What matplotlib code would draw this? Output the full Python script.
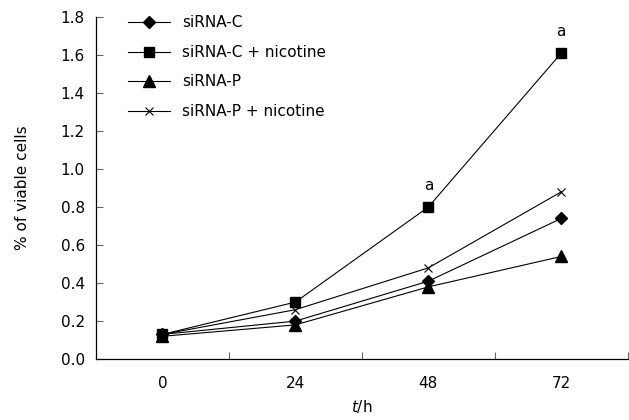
import matplotlib
matplotlib.use("Agg")
import matplotlib.pyplot as plt
import numpy as np

hours = ["0", "24", "48", "72"]
sirna_c = [0.13, 0.20, 0.41, 0.74]
sirna_c_nic = [0.13, 0.30, 0.80, 1.61]
sirna_p = [0.12, 0.18, 0.38, 0.54]
sirna_p_nic = [0.13, 0.26, 0.48, 0.88]
yticks = [0.0, 0.2, 0.4, 0.6, 0.8, 1.0, 1.2, 1.4, 1.6, 1.8]

plt.rcParams['font.family'] = ['DejaVu Sans']
plt.rcParams['font.size'] = 11

fig = plt.figure(figsize=(6.29, 4.2), dpi=100)
ax = fig.add_axes([0.1526, 0.145, 0.8454, 0.8145])

x = np.arange(len(hours))
ax.plot(x, sirna_c, color='black', lw=0.8, marker='D', ms=6.5, label='siRNA-C')
ax.plot(x, sirna_c_nic, color='black', lw=0.8, marker='s', ms=7, label='siRNA-C + nicotine')
ax.plot(x, sirna_p, color='black', lw=0.8, marker='^', ms=8.5, label='siRNA-P')
ax.plot(x, sirna_p_nic, color='black', lw=0.8, marker='x', ms=6, mew=0.8, label='siRNA-P + nicotine')

# significance marks
for i in [2, 3]:
    ax.annotate('a', (x[i], sirna_c_nic[i]), xytext=(0, 10), textcoords='offset points',
                ha='center', va='bottom', fontsize=11)

ax.set_xlim(-0.5, 3.5)
ax.set_ylim(0, 1.8)
ax.set_yticks(yticks)
ax.set_yticklabels([f"{v:.1f}" for v in yticks])
ax.set_xticks(x)
ax.set_xticklabels(hours)
ax.set_xticks([0.5, 1.5, 2.5, 3.5], minor=True)
ax.tick_params(axis='x', which='major', length=0, pad=12)
ax.tick_params(axis='x', which='minor', direction='in', length=5, width=0.8, color='0.4')
ax.tick_params(axis='y', direction='in', length=5, width=0.8, color='0.4', pad=8)

ax.spines['top'].set_visible(False)
ax.spines['right'].set_visible(False)
ax.spines['left'].set_linewidth(0.9)
ax.spines['bottom'].set_linewidth(0.9)

ax.set_ylabel('% of viable cells', labelpad=22)
ax.set_xlabel('$t$/h', labelpad=5)

ax.legend(loc='upper left', bbox_to_anchor=(0.035, 1.045), frameon=False,
          handlelength=2.7, labelspacing=0.95, handletextpad=0.8)

fig.savefig('out.png', dpi=100)
